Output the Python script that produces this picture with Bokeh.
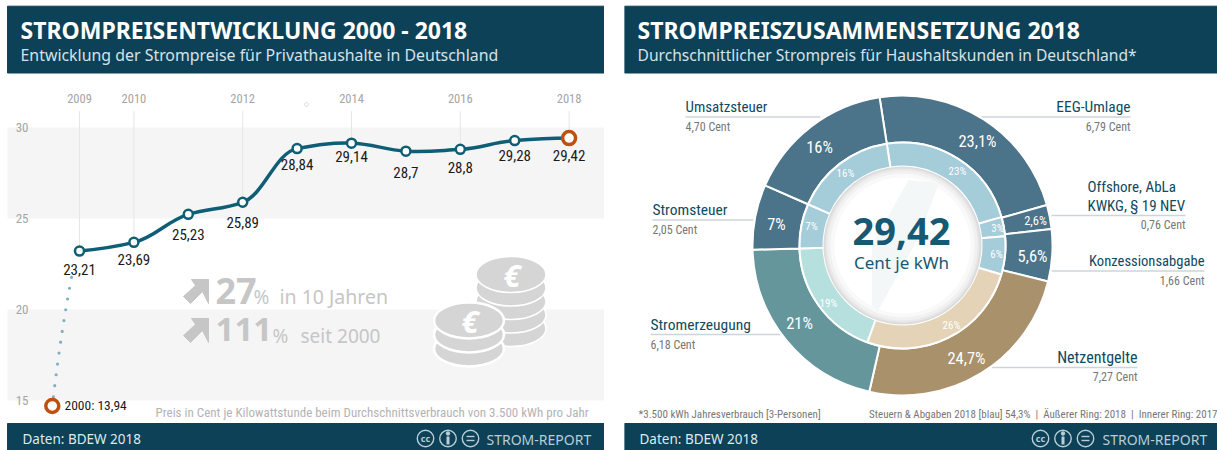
import math
import numpy as np
from bokeh.core.properties import value
from bokeh.embed import file_html
from bokeh.layouts import row
from bokeh.models import (BoxAnnotation, FixedTicker, LinearAxis, Range1d)
from bokeh.plotting import figure
from bokeh.resources import INLINE

# ---------- data ----------
years = [2009, 2010, 2011, 2012, 2013, 2014, 2015, 2016, 2017, 2018]
prices = [23.21, 23.69, 25.23, 25.89, 28.84, 29.14, 28.7, 28.8, 29.28, 29.42]
price_labels = ["23,21", "23,69", "25,23", "25,89", "28,84", "29,14", "28,7", "28,8", "29,28", "29,42"]
label_offsets = [18, 17, 20, 20, 16, 13, 21, 18, 15, 17]
year_ticks = [2009, 2010, 2012, 2014, 2016, 2018]
value_ticks = [15, 20, 25, 30]
# the 2000 point sits on a broken axis: where it is drawn, and what it says
start_label = "2000: 13,94"
start_drawn_year = 2008.5
start_drawn_value = 14.7

categories = ["EEG-Umlage", "Offshore", "Konzessionsabgabe", "Netzentgelte", "Stromerzeugung", "Stromsteuer", "Umsatzsteuer"]
outer_pct = [23.1, 2.6, 5.6, 24.7, 21, 7, 16]
inner_pct = [23, 3, 6, 26, 19, 7, 16]
outer_labels = ["23,1", "2,6", "5,6", "24,7", "21", "7", "16"]
inner_labels = ["23", "3", "6", "26", "19", "7", "16"]
cents = ["6,79 Cent", "0,76 Cent", "1,66 Cent", "7,27 Cent", "6,18 Cent", "2,05 Cent", "4,70 Cent"]
outer_colors = ["#4b738a", "#4b738a", "#4b738a", "#a8916b", "#65969b", "#4b738a", "#4b738a"]
inner_colors = ["#a4ccd9", "#a4ccd9", "#a4ccd9", "#e4d3b6", "#b5e0dd", "#a4ccd9", "#a4ccd9"]

# ---------- style ----------
NAVY = "#0c4157"
WIDE = "Noto Sans"
NARROW = "Roboto Condensed"
PX_PER_YEAR, PX_PER_CENT = 54.4, 18.2
LEFT_X0, LEFT_X1, RIGHT_X0, RIGHT_X1 = 0, 604, 624, 1217
TOP, BOTTOM = 0, 450
CX, CY = 902, 245


def make_fig(x_range, y_range, x0, x1):
    p = figure(width=x1 - x0, height=BOTTOM - TOP, x_range=x_range, y_range=y_range,
               output_backend="svg", toolbar_location=None, min_border=0,
               x_axis_location=None, y_axis_location=None, outline_line_color=None,
               background_fill_color="white", border_fill_color="white")
    p.grid.visible = False
    p.extra_x_ranges["px"] = Range1d(x0, x1)
    p.extra_y_ranges["px"] = Range1d(BOTTOM, TOP)
    return p


def T(p, x, y, s, size, color, font=NARROW, align="left", style="normal"):
    p.text(x=[x], y=[y], text=[s], text_font=value(font), text_font_size=f"{size}px",
           text_color=color, text_align=align, text_baseline="middle", text_font_style=style,
           x_range_name="px", y_range_name="px")


def frame_bars(p, x0, x1, title, sub, title_x, title_size, sub_size):
    p.quad(left=[x0], right=[x1], top=[5.7], bottom=[72.5], color=NAVY, x_range_name="px", y_range_name="px")
    p.quad(left=[x0], right=[x1], top=[423], bottom=[BOTTOM], color=NAVY, x_range_name="px", y_range_name="px")
    T(p, title_x, 29, title, title_size, "#ffffff", WIDE, style="bold")
    T(p, title_x, 54, sub, sub_size, "#d5e2e8", WIDE)
    T(p, title_x + 2, 438, "Daten: BDEW 2018", 13.5, "#dfe9ed", WIDE)


def cc_icons(p, cx, text_x, size):
    for dx in [0, 22.5, 45]:
        p.scatter(x=[cx + dx], y=[438], size=16.5, fill_color=None, line_color="#b9cdd6", line_width=1.4,
                  x_range_name="px", y_range_name="px")
    T(p, cx, 437.5, "cc", 9, "#b9cdd6", WIDE, "center", "bold")
    p.scatter(x=[cx + 22.5], y=[433], size=3.5, color="#b9cdd6", x_range_name="px", y_range_name="px")
    p.segment(x0=[cx + 22.5], y0=[436], x1=[cx + 22.5], y1=[444], line_color="#b9cdd6", line_width=3,
              x_range_name="px", y_range_name="px")
    p.segment(x0=[cx + 41, cx + 41], y0=[436, 440], x1=[cx + 49, cx + 49], y1=[436, 440], line_color="#b9cdd6",
              line_width=1.4, x_range_name="px", y_range_name="px")
    T(p, text_x, 439, "STROM-REPORT", size, "#b9cdd6", WIDE)


# ---------- left: price history ----------
xr = Range1d(2009 + (LEFT_X0 - 79) / PX_PER_YEAR, 2009 + (LEFT_X1 - 79) / PX_PER_YEAR)
yr = Range1d(30 - (BOTTOM - 127) / PX_PER_CENT, 30 + (127 - TOP) / PX_PER_CENT)
p1 = make_fig(xr, yr, LEFT_X0, LEFT_X1)

band_left = xr.start + 7 / PX_PER_YEAR
for hi, lo in [(30, 25), (20, 15)]:
    p1.add_layout(BoxAnnotation(top=hi, bottom=lo, left=band_left, fill_color="#f5f5f5", fill_alpha=1,
                                line_color=None, level="underlay"))

x_axis = LinearAxis(ticker=FixedTicker(ticks=year_ticks), fixed_location=30.9, axis_line_color=None,
                    major_tick_line_color=None, minor_tick_line_color=None, major_label_text_font=NARROW,
                    major_label_text_font_size="12.5px", major_label_text_color="#a5a5a5", major_label_standoff=2)
p1.add_layout(x_axis, "above")
y_axis = LinearAxis(ticker=FixedTicker(ticks=value_ticks), fixed_location=xr.start + 34 / PX_PER_YEAR,
                    axis_line_color=None, major_tick_line_color=None, minor_tick_line_color=None,
                    major_label_text_font=NARROW, major_label_text_font_size="13px",
                    major_label_text_color="#a5a5a5", major_label_standoff=0)
p1.add_layout(y_axis, "left")

tick_values = [prices[years.index(y)] for y in year_ticks]
p1.segment(x0=year_ticks, y0=[30.9] * len(year_ticks), x1=year_ticks, y1=tick_values, line_color="#e6e6e6", line_width=1)

# watermark
for dy, big, big_size, big_x, pct_x, tail, tail_x, tail_size in [(0, "27", 36, 215, 253, "in 10 Jahren", 279, 19.5),
                                                                 (39, "111", 33, 215, 272, "seit 2000", 300, 19)]:
    ax = np.array([191, 208, 208, 202, 190, 183, 195])
    ay = np.array([279, 279, 303, 291, 303, 296, 285]) + dy
    p1.patch(x=ax, y=ay, color="#c6c6c6", x_range_name="px", y_range_name="px")
    T(p1, big_x, 290 + dy, big, big_size, "#c6c6c6", WIDE, style="bold")
    T(p1, pct_x, 296 + dy, "%", 19, "#c6c6c6", WIDE)
    T(p1, tail_x, 296 + dy, tail, tail_size, "#c6c6c6", WIDE)

# coins: stack centre, top coin centre, layers below it, layer spacing, ring width
for cx, top_y, n, step, ring_w in [(510.5, 274, 4, 13.5, 1.5), (468.5, 320, 2, 14, 2.5)]:
    for i in range(n, -1, -1):
        p1.ellipse(x=[cx], y=[top_y + i * step], width=[70], height=[36], fill_color="#d5d5d5", line_color="white",
                   line_width=ring_w, x_range_name="px", y_range_name="px")
    T(p1, cx + 1, top_y, "€", 31, "white", WIDE, "center", "bold italic")

# faint speck
p1.scatter(x=[306], y=[104], size=4, fill_color="white", line_color="#dddddd", x_range_name="px", y_range_name="px")

# dotted start of the line, and the smooth curve, from the data
p1.bezier(x0=[start_drawn_year + 0.02], y0=[start_drawn_value + 0.5], x1=[years[0] - 0.13], y1=[prices[0] - 1.2],
          cx0=[start_drawn_year + 0.12], cy0=[start_drawn_value + 3], cx1=[years[0] - 0.28], cy1=[prices[0] - 3.5],
          line_color="#7fb0c0", line_width=3.2, line_dash="0 11", line_cap="round")
xs, ys = np.array(years, float), np.array(prices, float)
secants = np.diff(ys) / np.diff(xs)
slope = np.gradient(ys, xs)
for i in range(1, len(xs) - 1):
    a, b = secants[i - 1], secants[i]
    if a * b > 0:
        slope[i] = 2 * a * b / (a + b)
slope[0], slope[-1] = 0.3, 0.05
k = 0.4
p1.bezier(x0=xs[:-1], y0=ys[:-1], x1=xs[1:], y1=ys[1:],
          cx0=xs[:-1] + k, cy0=ys[:-1] + k * slope[:-1], cx1=xs[1:] - k, cy1=ys[1:] - k * slope[1:],
          line_color="#0e5e75", line_width=3.5)
p1.scatter(x=years[:-1], y=prices[:-1], size=9, fill_color="white", line_color="#0e5e75", line_width=2.5)
p1.scatter(x=[years[-1], start_drawn_year], y=[prices[-1], start_drawn_value], size=13, fill_color="white",
           line_color="#c0500f", line_width=3.5)

p1.text(x=years, y=prices, text=price_labels, y_offset=label_offsets, text_font=value(NARROW),
        text_font_size="15px", text_color="#1a1a1a", text_align="center", text_baseline="middle")
T(p1, 64, 404, start_label, 13.5, "#1a1a1a")
T(p1, 155, 412, "Preis in Cent je Kilowattstunde beim Durchschnittsverbrauch von 3.500 kWh pro Jahr", 13, "#b4b4b4")
frame_bars(p1, 7, LEFT_X1, "STROMPREISENTWICKLUNG 2000 - 2018",
           "Entwicklung der Strompreise für Privathaushalte in Deutschland", 20, 23, 15.9)
cc_icons(p1, 425, 486, 14)

# ---------- right: composition donut ----------
p2 = make_fig(Range1d(RIGHT_X0 - CX, RIGHT_X1 - CX), Range1d(CY - BOTTOM, CY - TOP), RIGHT_X0, RIGHT_X1)
START = math.pi / 2 + math.radians(8.8)


def ring(pcts, colors, r0, r1):
    edges = np.concatenate([[0], np.cumsum(pcts)]) / 100 * 2 * math.pi
    p2.annular_wedge(x=0, y=0, inner_radius=r0, outer_radius=r1, start_angle=START - edges[:-1],
                     end_angle=START - edges[1:], direction="clock", fill_color=colors,
                     line_color="white", line_width=2)


ring(outer_pct, outer_colors, 103, 150)
ring(inner_pct, inner_colors, 79, 103)
for r, c in [(79, "#dcdcdc"), (77, "#e8e8e8"), (75, "#f1f1f1"), (72, "#f9f9f9"), (68, "#ffffff")]:
    p2.circle(x=[0], y=[0], radius=r, fill_color=c, line_color=None)
p2.patch(x=[908, 938, 917, 877, 872, 872], y=[180, 183, 238, 310, 305, 245], color="#f4f7f7",
         x_range_name="px", y_range_name="px")

outer_xy = [(977, 141), (1035, 220), (1032, 256), (966, 358), (799, 323), (776, 224), (819, 147)]
outer_sz = [16.5, 12.5, 16.5, 16.5, 16.5, 16.5, 16.5]
inner_xy = [(957, 171), (997, 228), (996, 254), (951, 325), (828, 303), (811, 226), (845, 173)]
for (x, y), s, sz in zip(outer_xy, outer_labels, outer_sz):
    T(p2, x, y, s + "%", sz, "#ffffff", NARROW, "center")
for (x, y), s in zip(inner_xy, inner_labels):
    T(p2, x, y, s + "%", 11, "#ffffff", NARROW, "center")

T(p2, 901, 231, "29,42", 38, "#155a72", WIDE, "center", "bold")
T(p2, 901, 262, "Cent je kWh", 17, "#155a72", WIDE, "center")

# names with their text x and y, align, size, leader from, leader to, leader y, cents x, cents y, index
callouts = [
    ([("EEG-Umlage", 1130, 106)], "right", 15.4, 980, 1130, 116.5, 1130, 126, 0),
    ([("Offshore, AbLa", 1087, 186), ("KWKG, § 19 NEV", 1087, 205)], "left", 15, 1051, 1185, 215, 1185, 224, 1),
    ([("Konzessionsabgabe", 1204, 260)], "right", 14.6, 1051, 1204, 270.5, 1204, 280, 2),
    ([("Netzentgelte", 1137, 357)], "right", 16, 991, 1137, 367, 1137, 376, 3),
    ([("Stromerzeugung", 650, 324)], "left", 15.5, 650, 780, 334, 650, 344, 4),
    ([("Stromsteuer", 652, 209)], "left", 15.5, 652, 753, 219.5, 652, 229, 5),
    ([("Umsatzsteuer", 685, 106)], "left", 15, 685, 820, 116.5, 685, 126, 6),
]
for names, align, size, l0, l1, ly, cx, cy, idx in callouts:
    p2.segment(x0=[l0], y0=[ly], x1=[l1], y1=[ly], line_color="#cfd4db", line_width=1.5, level="underlay",
               x_range_name="px", y_range_name="px")
    for n, nx, ny in names:
        T(p2, nx, ny, n, size, "#0f4a60", NARROW, align)
    T(p2, cx, cy, cents[idx], 12, "#777777", NARROW, "right" if cx > CX else "left")

T(p2, 638, 414, "*3.500 kWh Jahresverbrauch [3-Personen]", 11, "#777777")
T(p2, 1217, 414, "Steuern & Abgaben 2018 [blau] 54,3%\u00a0 |\u00a0 Äußerer Ring: 2018\u00a0 |\u00a0 Innerer Ring: 2017", 11,
  "#777777", NARROW, "right")
frame_bars(p2, RIGHT_X0, RIGHT_X1, "STROMPREISZUSAMMENSETZUNG 2018",
           "Durchschnittlicher Strompreis für Haushaltskunden in Deutschland*", 637, 23, 15.6)
cc_icons(p2, 1040, 1102, 14)

page = row(p1, p2, spacing=RIGHT_X0 - LEFT_X1)
open("out.html", "w").write(file_html(page, INLINE))
